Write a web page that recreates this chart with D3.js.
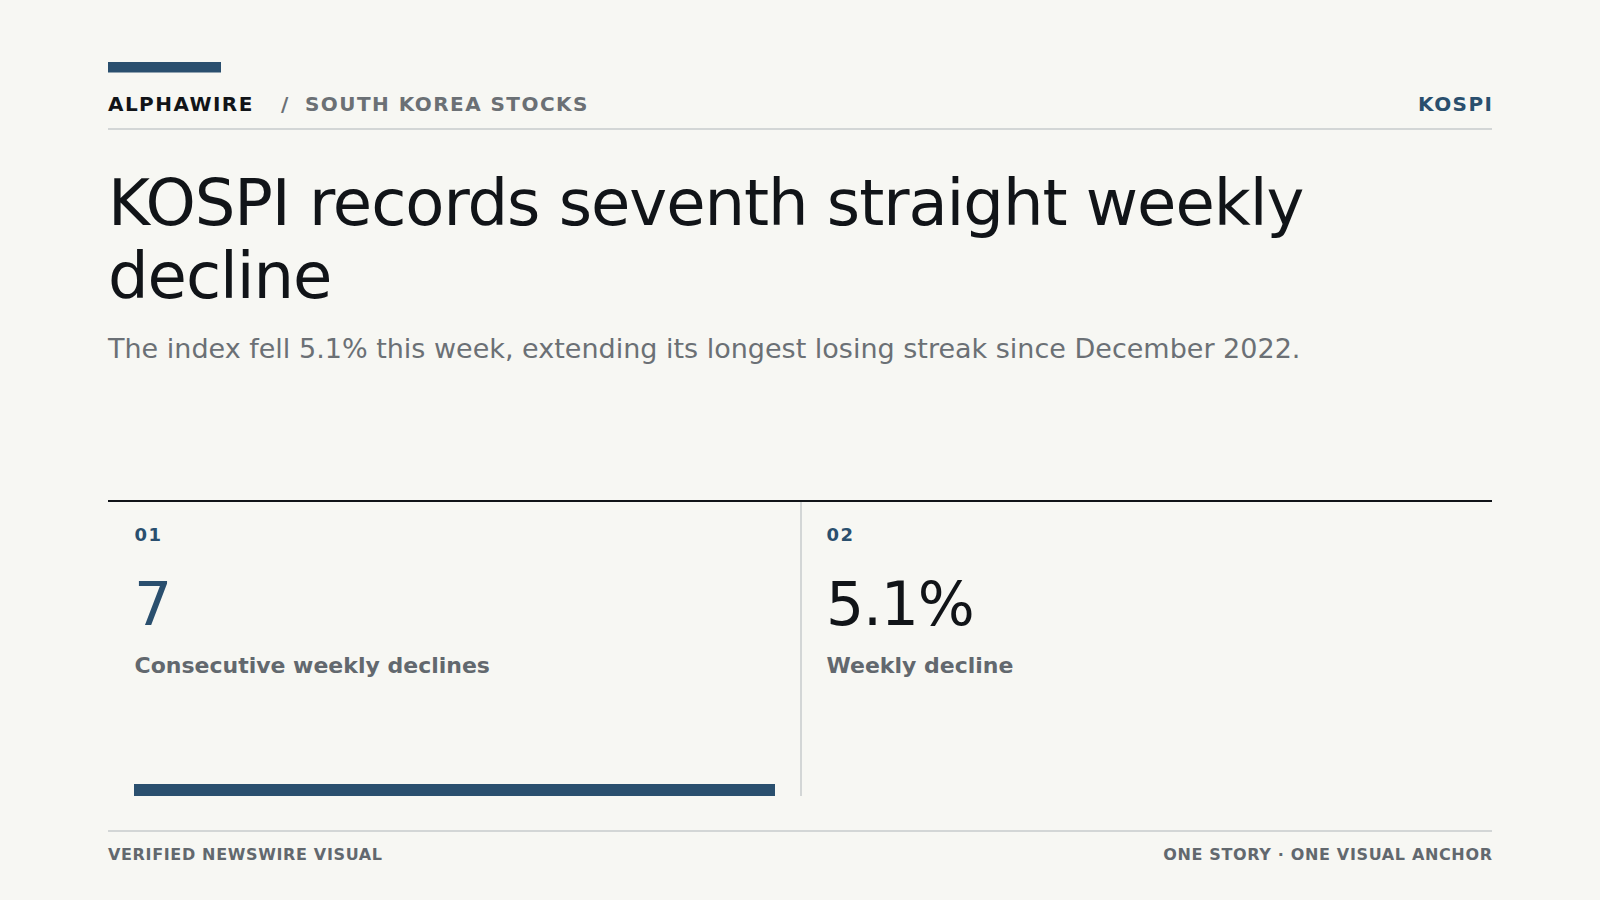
<!DOCTYPE html>
<html>
<head>
<meta charset="utf-8">
<script src="https://cdn.jsdelivr.net/npm/d3@7"></script>
<style>
  html, body { margin: 0; padding: 0; background: #f7f7f3; }
  svg { display: block; }
  text { font-family: "DejaVu Sans", sans-serif; }
</style>
</head>
<body>
<div id="chart"></div>
<script>
// ---- data ----
const brand = "ALPHAWIRE";
const section = "SOUTH KOREA STOCKS";
const tag = "KOSPI";
const titleLines = ["KOSPI records seventh straight weekly", "decline"];
const subtitle = "The index fell 5.1% this week, extending its longest losing streak since December 2022.";
const cardIndex = ["01", "02"];
const cardValues = ["7", "5.1%"];
const cardLabels = ["Consecutive weekly declines", "Weekly decline"];
const barValues = [7, null];   // streak length shown as the visual anchor
const barMax = [7, null];
const footerLeft = "VERIFIED NEWSWIRE VISUAL";
const footerRight = "ONE STORY · ONE VISUAL ANCHOR";

// ---- styles ----
const W = 1600, H = 900;
const L = 108, R = 1492;
const navy = "#2a4f6e", ink = "#111418", gray = "#6b7075", gray2 = "#62686e", rule = "#d3d6d6";
const hdrLS = 1.45;

const svg = d3.select("#chart").append("svg")
  .attr("width", W).attr("height", H);
svg.append("rect").attr("width", W).attr("height", H).attr("fill", "#f7f7f3");

// accent bar
svg.append("rect").attr("x", L).attr("y", 62).attr("width", 113).attr("height", 10.5).attr("fill", navy);

// header
svg.append("text").attr("x", L).attr("y", 111).text(brand)
  .attr("font-size", 20).attr("font-weight", "bold").attr("letter-spacing", hdrLS).attr("fill", ink);
svg.append("text").attr("x", 281).attr("y", 111).text("/")
  .attr("font-size", 20).attr("font-weight", "bold").attr("fill", gray);
svg.append("text").attr("x", 305).attr("y", 111).text(section)
  .attr("font-size", 20).attr("font-weight", "bold").attr("letter-spacing", hdrLS).attr("fill", gray);
svg.append("text").attr("x", R + hdrLS).attr("y", 111).attr("text-anchor", "end").text(tag)
  .attr("font-size", 20).attr("font-weight", "bold").attr("letter-spacing", hdrLS).attr("fill", navy);
svg.append("rect").attr("x", L).attr("y", 128).attr("width", R - L).attr("height", 2).attr("fill", rule);

// title
svg.selectAll("text.title").data(titleLines).join("text")
  .attr("class", "title")
  .attr("x", L).attr("y", (d, i) => 225 + i * 72.7)
  .attr("font-size", 64).attr("letter-spacing", -1.05).attr("fill", ink)
  .text(d => d);

// subtitle
svg.append("text").attr("x", L).attr("y", 357.5).text(subtitle)
  .attr("font-size", 27).attr("fill", gray);

// cards
const cardTop = 500, cardBottom = 796;
const xCard = d3.scaleBand().domain(cardIndex).range([L, R]).paddingInner(0).paddingOuter(0);
const pad = 26;

svg.append("rect").attr("x", L).attr("y", cardTop).attr("width", R - L).attr("height", 2).attr("fill", ink);

const cards = svg.selectAll("g.card").data(cardIndex.map((k, i) => ({
  k, value: cardValues[i], label: cardLabels[i], bar: barValues[i], max: barMax[i], i
}))).join("g").attr("class", "card")
  .attr("transform", d => `translate(${xCard(d.k)},0)`);

cards.filter(d => d.i > 0).append("rect")
  .attr("x", 0).attr("y", cardTop + 2).attr("width", 2).attr("height", cardBottom - cardTop - 2)
  .attr("fill", rule);

cards.append("text").attr("x", pad + 0.5).attr("y", 541).text(d => d.k)
  .attr("font-size", 18).attr("font-weight", "bold").attr("letter-spacing", 1.5).attr("fill", navy);

cards.append("text").attr("x", pad).attr("y", 625).text(d => d.value)
  .attr("font-size", 60).attr("letter-spacing", -1.2)
  .attr("fill", d => d.i === 0 ? navy : ink);

cards.append("text").attr("x", pad + 0.5).attr("y", 672.7).text(d => d.label)
  .attr("font-size", 22).attr("font-weight", "bold").attr("fill", gray2);

cards.filter(d => d.bar != null).each(function(d) {
  const xb = d3.scaleLinear().domain([0, d.max]).range([0, xCard.bandwidth() - 2 * pad + 1]);
  d3.select(this).append("rect")
    .attr("x", pad).attr("y", 784).attr("height", 12)
    .attr("width", xb(d.bar)).attr("fill", navy);
});

// footer
svg.append("rect").attr("x", L).attr("y", 830).attr("width", R - L).attr("height", 2).attr("fill", rule);
svg.append("text").attr("x", L).attr("y", 860).text(footerLeft)
  .attr("font-size", 16).attr("font-weight", "bold").attr("letter-spacing", 0.65).attr("fill", gray2);
svg.append("text").attr("x", R + 0.65).attr("y", 860).attr("text-anchor", "end").text(footerRight)
  .attr("font-size", 16).attr("font-weight", "bold").attr("letter-spacing", 0.65).attr("fill", gray2);
</script>
</body>
</html>
